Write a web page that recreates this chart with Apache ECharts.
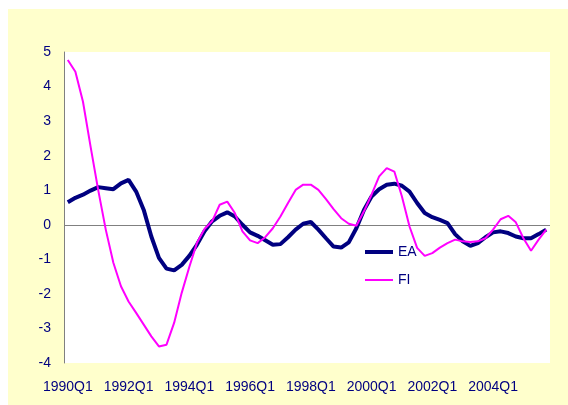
<!DOCTYPE html>
<html>
<head>
<meta charset="utf-8">
<script src="https://cdn.jsdelivr.net/npm/echarts@6/dist/echarts.min.js"></script>
<style>
  html, body { margin: 0; padding: 0; background: #ffffff; }
  #chart { width: 568px; height: 405px; }
</style>
</head>
<body>
<div id="chart"></div>
<script>
// Quarterly periods 1990Q1 .. 2005Q4
const quarters = [];
for (let y = 1990; y <= 2005; y++) {
  for (let q = 1; q <= 4; q++) quarters.push(y + 'Q' + q);
}

// Euro area
const eaValues = [
  0.65, 0.78, 0.87, 0.99, 1.09, 1.06, 1.03, 1.20, 1.30, 0.96,
  0.43, -0.34, -0.96, -1.27, -1.32, -1.16, -0.90, -0.58, -0.19, 0.10,
  0.26, 0.36, 0.24, 0.00, -0.22, -0.32, -0.45, -0.58, -0.56, -0.36,
  -0.14, 0.03, 0.08, -0.14, -0.39, -0.63, -0.66, -0.51, -0.10, 0.43,
  0.82, 1.03, 1.16, 1.19, 1.13, 0.96, 0.63, 0.34, 0.22, 0.14,
  0.05, -0.27, -0.48, -0.61, -0.53, -0.36, -0.22, -0.19, -0.24, -0.34,
  -0.39, -0.39, -0.27, -0.14
];

// Finland
const fiValues = [
  4.77, 4.43, 3.56, 2.26, 1.01, -0.14, -1.10, -1.78, -2.22, -2.55,
  -2.89, -3.23, -3.52, -3.47, -2.84, -1.97, -1.22, -0.53, -0.12, 0.10,
  0.58, 0.67, 0.34, -0.19, -0.45, -0.53, -0.36, -0.10, 0.24, 0.63,
  1.01, 1.16, 1.16, 1.01, 0.74, 0.45, 0.19, 0.03, -0.03, 0.39,
  0.87, 1.40, 1.64, 1.54, 0.82, -0.05, -0.67, -0.90, -0.82, -0.66,
  -0.53, -0.43, -0.48, -0.50, -0.48, -0.39, -0.14, 0.16, 0.26, 0.07,
  -0.39, -0.75, -0.43, -0.14
];

const seriesNames = ['EA', 'FI'];
const yTicks = { min: -4, max: 5, step: 1 };

const navy = '#000080';
const magenta = '#FF00FF';
const font = 'Liberation Sans, Arial, sans-serif';
const chart = echarts.init(document.getElementById('chart'), null, { renderer: 'canvas' });

// one legend per series so each key line keeps its own thickness
function legendFor(name, lineWidth, centerY) {
  return {
    orient: 'vertical',
    left: 360,
    top: centerY - 8,
    itemWidth: 28,
    itemHeight: lineWidth,
    icon: 'rect',
    textStyle: { color: navy, fontSize: 14, fontFamily: font, lineHeight: 16 },
    data: [name]
  };
}

chart.setOption({
  backgroundColor: '#ffffff',
  animation: false,
  graphic: [{
    type: 'rect',
    left: 8, top: 9,
    z: -100,
    silent: true,
    shape: { width: 560, height: 396 },
    style: { fill: '#FFFFCC' }
  }],
  grid: {
    left: 64, top: 52, right: 18, bottom: 42,
    show: true, backgroundColor: '#ffffff', borderWidth: 0
  },
  legend: [
    legendFor(seriesNames[0], 4, 247),
    legendFor(seriesNames[1], 2, 275)
  ],
  xAxis: {
    type: 'category',
    data: quarters,
    boundaryGap: true,
    axisLine: { show: false },
    axisTick: { show: false },
    splitLine: { show: false },
    axisLabel: {
      interval: 7,
      margin: 17,
      color: navy,
      fontSize: 14,
      fontFamily: font
    }
  },
  yAxis: {
    type: 'value',
    min: yTicks.min, max: yTicks.max, interval: yTicks.step,
    axisLine: { show: true, lineStyle: { color: '#808080', width: 1 } },
    axisTick: { show: false },
    splitLine: { show: false },
    axisLabel: {
      margin: 13,
      color: navy,
      fontSize: 14,
      fontFamily: font
    }
  },
  series: [
    {
      name: seriesNames[0],
      type: 'line',
      data: eaValues,
      symbol: 'none',
      lineStyle: { color: navy, width: 4 },
      itemStyle: { color: navy },
      z: 3,
      markLine: {
        silent: true,
        symbol: 'none',
        label: { show: false },
        lineStyle: { color: '#808080', width: 1, type: 'solid' },
        data: [{ yAxis: 0 }],
        z: 1
      }
    },
    {
      name: seriesNames[1],
      type: 'line',
      data: fiValues,
      symbol: 'none',
      lineStyle: { color: magenta, width: 2 },
      itemStyle: { color: magenta },
      z: 4
    }
  ]
});
</script>
</body>
</html>
